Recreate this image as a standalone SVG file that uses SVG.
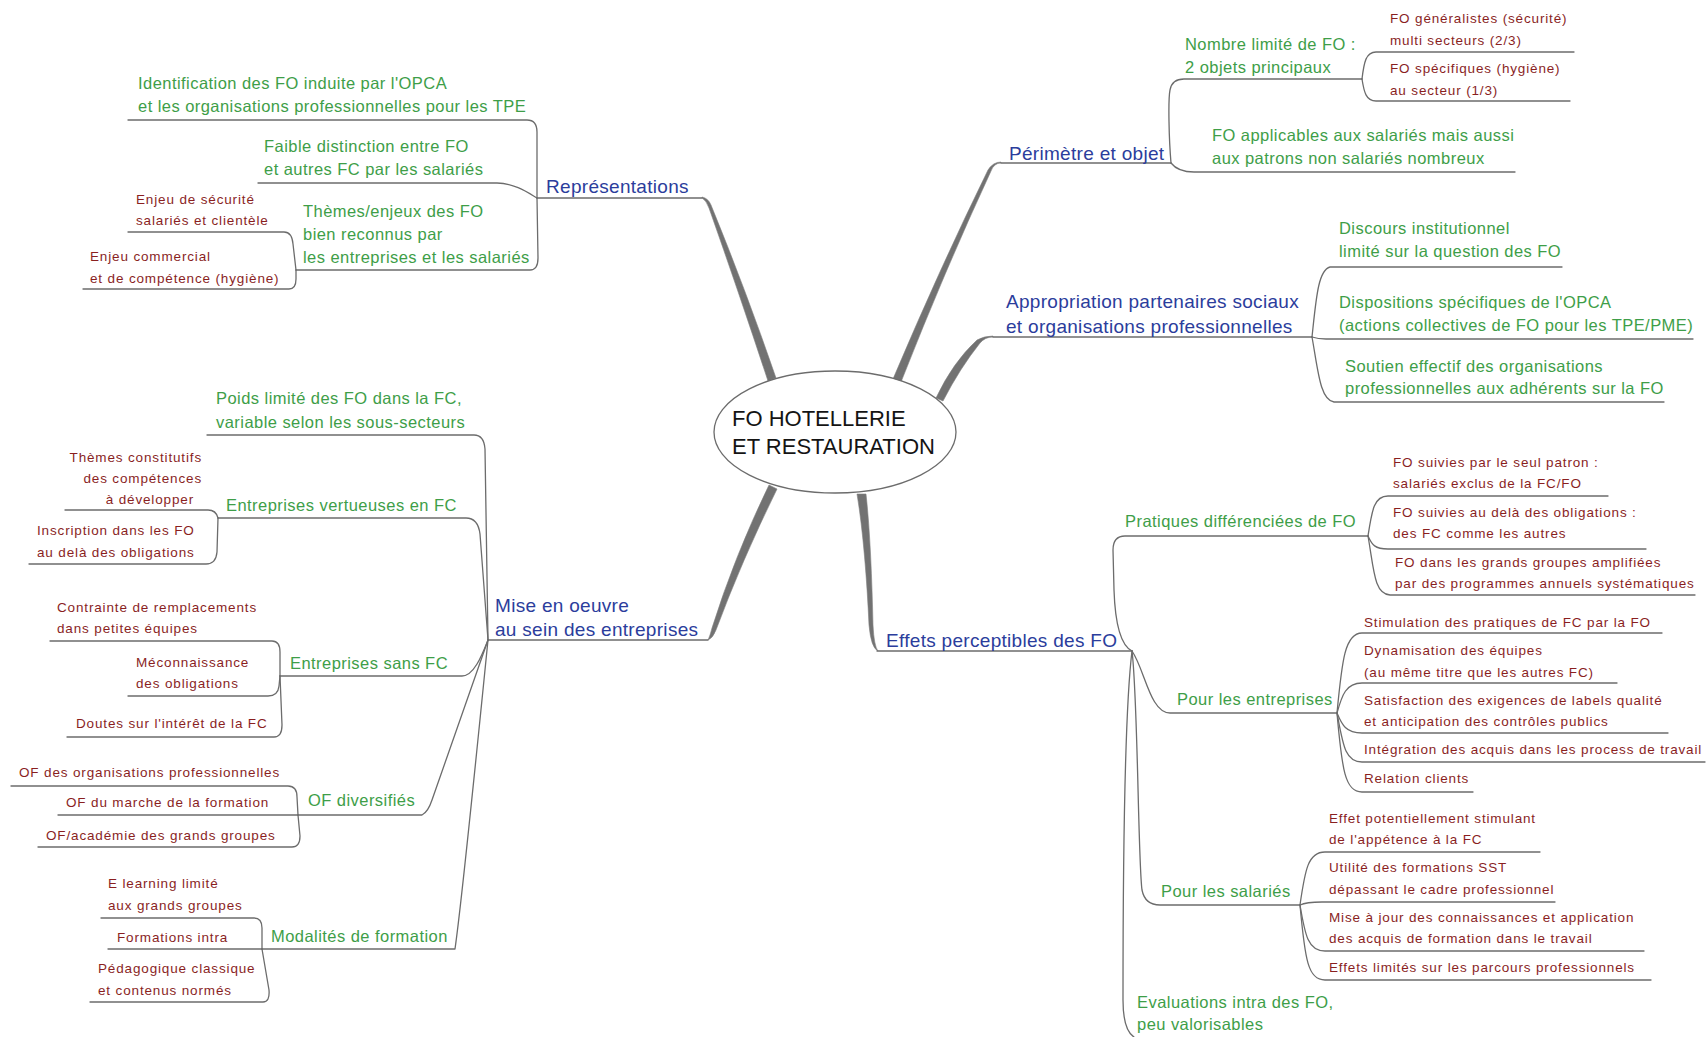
<svg xmlns="http://www.w3.org/2000/svg" width="1707" height="1037" viewBox="0 0 1707 1037">
<style>
  text { font-family: "Liberation Sans", Arial, sans-serif; }
  .b { fill: #2b3d9c; font-size: 19px; letter-spacing: 0.3px; }
  .g { fill: #3e9e48; font-size: 16.5px; letter-spacing: 0.45px; }
  .r { fill: #8a1f1f; font-size: 13.5px; letter-spacing: 0.85px; }
  .c { fill: #141414; font-size: 22px; }
  .ln { fill: none; stroke: #6c6c6c; stroke-width: 1.3; stroke-linejoin: round; stroke-linecap: round; }
  .th { fill: #727272; stroke: #808080; stroke-width: 0.6; }
  .hub { fill: #ffffff; stroke: #6c6c6c; stroke-width: 1.3; }
</style>
<rect width="1707" height="1037" fill="#ffffff"/>

<g id="connectors">
  <!-- tapered main branches -->
  <path class="th" d="M702,197 Q708,198 711,205 Q745,288 776,378 L768,381 Q738,290 709,208 Q706,200 702,198 Z"/>
  <path class="th" d="M1001,163 Q994,163 991,171 Q945,270 901,382 L893,379 Q940,268 988,170 Q993,162 1001,162 Z"/>
  <path class="th" d="M993,337 Q985,337 980,343 Q960,368 943,401 L936,398 Q953,362 977,340 Q984,336 993,336 Z"/>
  <path class="th" d="M708,640 Q713,638 716,630 Q742,560 777,489 L769,485 Q735,555 712,628 Q710,636 708,640 Z"/>
  <path class="th" d="M857,494 C863,530 867,580 869,625 Q871,648 878,651 Q874,646 873,625 C872,580 870,530 866,494 Z"/>

  <!-- main branch underlines -->
  <path class="ln" d="M537,198 H702"/>
  <path class="ln" d="M1001,163 H1171"/>
  <path class="ln" d="M993,337 H1312"/>
  <path class="ln" d="M488,640 H708"/>
  <path class="ln" d="M877,651 H1132"/>

  <!-- Représentations -->
  <path class="ln" d="M128,120 H527 Q537,120 537,132 L537,198"/>
  <path class="ln" d="M258,183 H497 C515,183 530,194 537,198"/>
  <path class="ln" d="M296,270 H530 Q538,270 538,258 L537,198"/>
  <path class="ln" d="M128,232 H284 Q292,232 293,244 L296,270"/>
  <path class="ln" d="M83,289 H289 Q296,289 296,279 L296,270"/>

  <!-- Périmètre et objet -->
  <path class="ln" d="M1171,163 C1169,140 1168,100 1170,90 Q1172,79 1184,79 H1362"/>
  <path class="ln" d="M1171,163 Q1178,172 1194,172 H1515"/>
  <path class="ln" d="M1362,79 C1364,62 1366,52 1376,52 H1574"/>
  <path class="ln" d="M1362,79 C1364,92 1366,101 1376,101 H1570"/>

  <!-- Appropriation -->
  <path class="ln" d="M1312,337 C1316,300 1318,270 1330,267 H1562"/>
  <path class="ln" d="M1312,337 Q1318,339 1326,339 H1693"/>
  <path class="ln" d="M1312,337 C1318,370 1320,400 1334,402 H1664"/>

  <!-- Effets perceptibles -->
  <path class="ln" d="M1132,651 C1120,645 1115,620 1114,590 L1113,550 Q1113,536 1125,536 H1368"/>
  <path class="ln" d="M1132,651 C1145,670 1150,713 1170,713 H1337"/>
  <path class="ln" d="M1132,651 C1138,700 1138,860 1142,890 Q1145,905 1160,905 H1300"/>
  <path class="ln" d="M1132,651 C1126,700 1123,800 1123,1000 Q1123,1030 1134,1037"/>

  <path class="ln" d="M1368,536 C1372,510 1374,496 1388,496 H1608"/>
  <path class="ln" d="M1368,536 C1372,545 1375,549 1388,549 H1646"/>
  <path class="ln" d="M1368,536 C1374,570 1374,594 1390,595 H1695"/>

  <path class="ln" d="M1337,713 C1342,660 1345,633 1362,633 H1662"/>
  <path class="ln" d="M1337,713 C1342,695 1346,683 1362,683 H1617"/>
  <path class="ln" d="M1337,713 C1342,725 1346,733 1362,733 H1668"/>
  <path class="ln" d="M1337,713 C1343,745 1345,762 1362,762 H1705"/>
  <path class="ln" d="M1337,713 C1342,770 1345,792 1362,792 H1473"/>

  <path class="ln" d="M1300,905 C1305,870 1308,852 1325,852 H1540"/>
  <path class="ln" d="M1300,905 Q1306,902 1322,902 H1555"/>
  <path class="ln" d="M1300,905 C1305,935 1308,951 1325,951 H1644"/>
  <path class="ln" d="M1300,905 C1305,960 1308,980 1325,980 H1651"/>

  <!-- Mise en oeuvre -->
  <path class="ln" d="M207,435 H474 Q484,435 485,449 L488,640"/>
  <path class="ln" d="M218,518 H466 Q478,518 480,534 L488,640"/>
  <path class="ln" d="M280,676 H462 C474,676 482,655 488,640"/>
  <path class="ln" d="M298,815 H422 Q428,812 432,800 L488,640"/>
  <path class="ln" d="M262,949 H455 C462,900 480,720 488,640"/>

  <path class="ln" d="M65,510 H208 Q216,510 218,518"/>
  <path class="ln" d="M29,564 H206 Q216,564 217,552 L218,518"/>
  <path class="ln" d="M50,641 H272 Q280,641 280,652 L280,676"/>
  <path class="ln" d="M128,696 H268 Q278,696 279,686 L280,676"/>
  <path class="ln" d="M67,737 H274 Q282,737 282,725 L280,676"/>
  <path class="ln" d="M11,786 H288 Q297,786 297,797 L298,815"/>
  <path class="ln" d="M58,815 H298"/>
  <path class="ln" d="M38,847 H292 Q300,847 300,836 L298,815"/>
  <path class="ln" d="M101,918 H254 Q262,918 262,928 L262,949"/>
  <path class="ln" d="M108,949 H262"/>
  <path class="ln" d="M90,1002 H263 Q270,1002 269,990 L262,949"/>
</g>

<g id="n-center">
  <ellipse class="hub" cx="835" cy="432" rx="121" ry="61"/>
  <text class="c" x="732" y="426">FO HOTELLERIE</text>
  <text class="c" x="732" y="454">ET RESTAURATION</text>
</g>

<!-- Représentations -->
<g id="n-representations"><text class="b" x="546" y="193">Représentations</text></g>
<g id="n-identification"><text class="g"><tspan x="138" y="89">Identification des FO induite par l'OPCA</tspan><tspan x="138" y="112">et les organisations professionnelles pour les TPE</tspan></text></g>
<g id="n-faible"><text class="g"><tspan x="264" y="152">Faible distinction entre FO</tspan><tspan x="264" y="175">et autres FC par les salariés</tspan></text></g>
<g id="n-themes"><text class="g"><tspan x="303" y="217">Thèmes/enjeux des FO</tspan><tspan x="303" y="240">bien reconnus par</tspan><tspan x="303" y="263">les entreprises et les salariés</tspan></text></g>
<g id="n-enjeu-securite"><text class="r"><tspan x="136" y="204">Enjeu de sécurité</tspan><tspan x="136" y="225">salariés et clientèle</tspan></text></g>
<g id="n-enjeu-commercial"><text class="r"><tspan x="90" y="261">Enjeu commercial</tspan><tspan x="90" y="283">et de compétence (hygiène)</tspan></text></g>

<!-- Périmètre et objet -->
<g id="n-perimetre"><text class="b" x="1009" y="160">Périmètre et objet</text></g>
<g id="n-nombre"><text class="g"><tspan x="1185" y="50">Nombre limité de FO :</tspan><tspan x="1185" y="73">2 objets principaux</tspan></text></g>
<g id="n-fo-generalistes"><text class="r"><tspan x="1390" y="23">FO généralistes (sécurité)</tspan><tspan x="1390" y="45">multi secteurs (2/3)</tspan></text></g>
<g id="n-fo-specifiques"><text class="r"><tspan x="1390" y="73">FO spécifiques (hygiène)</tspan><tspan x="1390" y="95">au secteur (1/3)</tspan></text></g>
<g id="n-fo-applicables"><text class="g"><tspan x="1212" y="141">FO applicables aux salariés mais aussi</tspan><tspan x="1212" y="164">aux patrons non salariés nombreux</tspan></text></g>

<!-- Appropriation -->
<g id="n-appropriation"><text class="b"><tspan x="1006" y="308">Appropriation partenaires sociaux</tspan><tspan x="1006" y="333">et organisations professionnelles</tspan></text></g>
<g id="n-discours"><text class="g"><tspan x="1339" y="234">Discours institutionnel</tspan><tspan x="1339" y="257">limité sur la question des FO</tspan></text></g>
<g id="n-dispositions"><text class="g"><tspan x="1339" y="308">Dispositions spécifiques de l'OPCA</tspan><tspan x="1339" y="331">(actions collectives de FO pour les TPE/PME)</tspan></text></g>
<g id="n-soutien"><text class="g"><tspan x="1345" y="372">Soutien effectif des organisations</tspan><tspan x="1345" y="394">professionnelles aux adhérents sur la FO</tspan></text></g>

<!-- Mise en oeuvre -->
<g id="n-mise-en-oeuvre"><text class="b"><tspan x="495" y="612">Mise en oeuvre</tspan><tspan x="495" y="636">au sein des entreprises</tspan></text></g>
<g id="n-poids"><text class="g"><tspan x="216" y="404">Poids limité des FO dans la FC,</tspan><tspan x="216" y="428">variable selon les sous-secteurs</tspan></text></g>
<g id="n-vertueuses"><text class="g" x="226" y="511">Entreprises vertueuses en FC</text></g>
<g id="n-themes-constitutifs"><text class="r" text-anchor="end"><tspan x="202" y="462">Thèmes constitutifs</tspan><tspan x="202" y="483">des compétences</tspan><tspan x="194" y="504">à développer</tspan></text></g>
<g id="n-inscription"><text class="r"><tspan x="37" y="535">Inscription dans les FO</tspan><tspan x="37" y="557">au delà des obligations</tspan></text></g>
<g id="n-sans-fc"><text class="g" x="290" y="669">Entreprises sans FC</text></g>
<g id="n-contrainte"><text class="r"><tspan x="57" y="612">Contrainte de remplacements</tspan><tspan x="57" y="633">dans petites équipes</tspan></text></g>
<g id="n-meconnaissance"><text class="r"><tspan x="136" y="667">Méconnaissance</tspan><tspan x="136" y="688">des obligations</tspan></text></g>
<g id="n-doutes"><text class="r" x="76" y="728">Doutes sur l'intérêt de la FC</text></g>
<g id="n-of-diversifies"><text class="g" x="308" y="806">OF diversifiés</text></g>
<g id="n-of-organisations"><text class="r" x="19" y="777">OF des organisations professionnelles</text></g>
<g id="n-of-marche"><text class="r" x="66" y="807">OF du marche de la formation</text></g>
<g id="n-of-academie"><text class="r" x="46" y="840">OF/académie des grands groupes</text></g>
<g id="n-modalites"><text class="g" x="271" y="942">Modalités de formation</text></g>
<g id="n-elearning"><text class="r"><tspan x="108" y="888">E learning limité</tspan><tspan x="108" y="910">aux grands groupes</tspan></text></g>
<g id="n-formations-intra"><text class="r" x="117" y="942">Formations intra</text></g>
<g id="n-pedagogique"><text class="r"><tspan x="98" y="973">Pédagogique classique</tspan><tspan x="98" y="995">et contenus normés</tspan></text></g>

<!-- Effets perceptibles -->
<g id="n-effets"><text class="b" x="886" y="647">Effets perceptibles des FO</text></g>
<g id="n-pratiques"><text class="g" x="1125" y="527">Pratiques différenciées de FO</text></g>
<g id="n-patron"><text class="r"><tspan x="1393" y="467">FO suivies par le seul patron :</tspan><tspan x="1393" y="488">salariés exclus de la FC/FO</tspan></text></g>
<g id="n-au-dela"><text class="r"><tspan x="1393" y="517">FO suivies au delà des obligations :</tspan><tspan x="1393" y="538">des FC comme les autres</tspan></text></g>
<g id="n-grands-groupes"><text class="r"><tspan x="1395" y="567">FO dans les grands groupes amplifiées</tspan><tspan x="1395" y="588">par des programmes annuels systématiques</tspan></text></g>
<g id="n-entreprises"><text class="g" x="1177" y="705">Pour les entreprises</text></g>
<g id="n-stimulation"><text class="r" x="1364" y="627">Stimulation des pratiques de FC par la FO</text></g>
<g id="n-dynamisation"><text class="r"><tspan x="1364" y="655">Dynamisation des équipes</tspan><tspan x="1364" y="677">(au même titre que les autres FC)</tspan></text></g>
<g id="n-satisfaction"><text class="r"><tspan x="1364" y="705">Satisfaction des exigences de labels qualité</tspan><tspan x="1364" y="726">et anticipation des contrôles publics</tspan></text></g>
<g id="n-integration"><text class="r" x="1364" y="754">Intégration des acquis dans les process de travail</text></g>
<g id="n-relation"><text class="r" x="1364" y="783">Relation clients</text></g>
<g id="n-salaries"><text class="g" x="1161" y="897">Pour les salariés</text></g>
<g id="n-effet-stimulant"><text class="r"><tspan x="1329" y="823">Effet potentiellement stimulant</tspan><tspan x="1329" y="844">de l'appétence à la FC</tspan></text></g>
<g id="n-utilite"><text class="r"><tspan x="1329" y="872">Utilité des formations SST</tspan><tspan x="1329" y="894">dépassant le cadre professionnel</tspan></text></g>
<g id="n-mise-a-jour"><text class="r"><tspan x="1329" y="922">Mise à jour des connaissances et application</tspan><tspan x="1329" y="943">des acquis de formation dans le travail</tspan></text></g>
<g id="n-effets-limites"><text class="r" x="1329" y="972">Effets limités sur les parcours professionnels</text></g>
<g id="n-evaluations"><text class="g"><tspan x="1137" y="1008">Evaluations intra des FO,</tspan><tspan x="1137" y="1030">peu valorisables</tspan></text></g>
</svg>
